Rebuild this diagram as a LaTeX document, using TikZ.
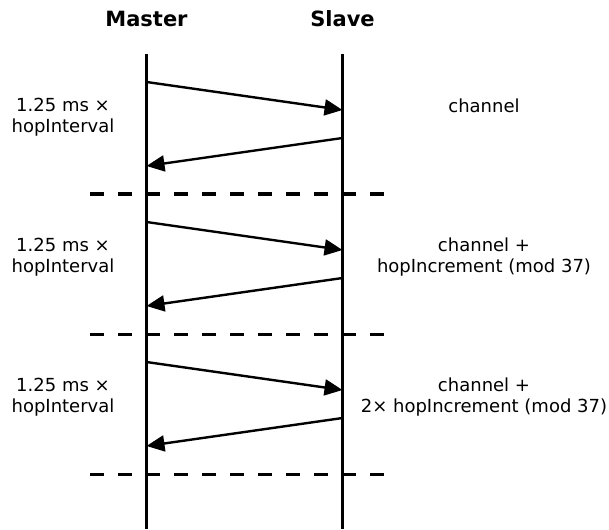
\documentclass[tikz,border=0pt]{standalone}
\usepackage{fontspec}
\setmainfont{DejaVu Sans}
\usetikzlibrary{arrows.meta}
\begin{document}
\begin{tikzpicture}[x=1pt,y=-1pt,
  life/.style={line width=2.6pt},
  msg/.style={line width=2.4pt,-{Triangle[length=18pt,width=16pt]}},
  sep/.style={line width=3pt,dash pattern=on 14pt off 14pt},
  head/.style={font=\fontsize{21}{25}\selectfont\bfseries,anchor=base,inner sep=0pt},
  lbl/.style={font=\fontsize{18}{20.5}\selectfont,align=center,inner sep=0pt}]
\useasboundingbox (0,0) rectangle (609,529);
\node[head] (master) at (146.5,27) {Master};
\node[head] (slave) at (342.5,27) {Slave};
\coordinate (mtop) at (146.5,54);
\coordinate (mbot) at (146.5,529);
\coordinate (stop) at (342.5,54);
\coordinate (sbot) at (342.5,529);
\draw[life] (mtop) -- (mbot);
\draw[life] (stop) -- (sbot);
\foreach \g in {0,1,2}{
  \coordinate (ma\g) at (146.5,{82+140*\g});
  \coordinate (sa\g) at (342.5,{110+140*\g});
  \coordinate (sb\g) at (342.5,{138+140*\g});
  \coordinate (mb\g) at (146.5,{166+140*\g});
  \coordinate (dl\g) at (90,{194+140*\g});
  \coordinate (dr\g) at (385,{194+140*\g});
  \draw[msg] (ma\g) -- (sa\g);
  \draw[msg] (sb\g) -- (mb\g);
  \draw[sep] (dl\g) -- (dr\g);
  \node[lbl] (iv\g) at (63,{117+140*\g}) {1.25 ms ×\\hopInterval};
}
\node[lbl,anchor=base] (ch0) at (484,113) {channel};
\node[lbl] (ch1) at (484,257) {channel +\\hopIncrement (mod 37)};
\node[lbl] (ch2) at (484,397) {channel +\\2× hopIncrement (mod 37)};
\end{tikzpicture}
\end{document}
